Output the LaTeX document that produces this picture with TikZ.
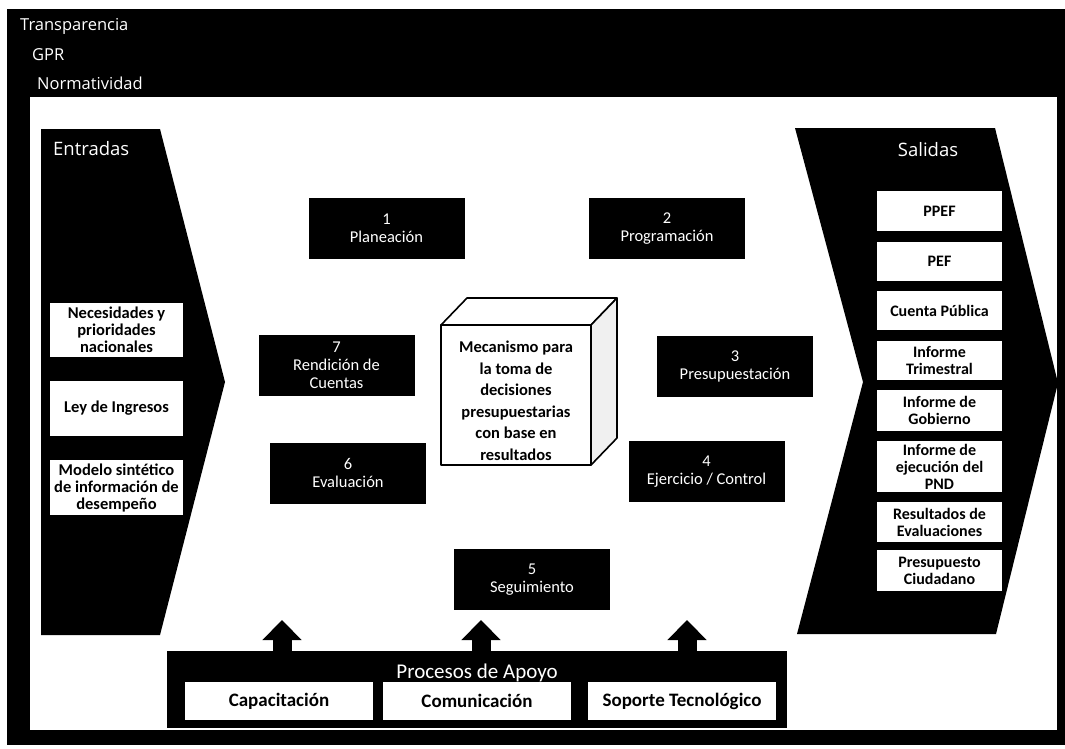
\documentclass[tikz,border=0pt]{standalone}
\usepackage{fontspec}
\setmainfont{Carlito}
\newfontfamily\osans{Open Sans}
\usetikzlibrary{arrows.meta}
\begin{document}
\begin{tikzpicture}[x=1pt,y=-1pt,
  toplabel/.style={text=white, inner sep=0pt, font=\osans\fontsize{16.5}{18}\selectfont},
  sidetitle/.style={text=white, inner sep=0pt, font=\osans\fontsize{18.5}{20}\selectfont},
  stagebox/.style={fill=black, text=white, minimum width=156pt, minimum height=61pt, inner sep=0pt, align=center, font=\fontsize{16.5}{18}\selectfont},
  inbox/.style={fill=white, text=black, minimum width=133pt, inner sep=0pt, align=center, font=\bfseries\fontsize{16.5}{17}\selectfont},
  outbox/.style={fill=white, text=black, minimum width=125pt, inner sep=0pt, align=center, font=\bfseries\fontsize{16}{17}\selectfont},
  apoyobox/.style={fill=white, text=black, minimum width=188pt, minimum height=38pt, inner sep=0pt, font=\bfseries\fontsize{19}{21}\selectfont},
  cubeline/.style={draw=black, line width=1.6pt, line join=round},
  bigarrow/.style={line width=19pt, draw=black, -{Triangle[width=38pt,length=20pt]}}
]
\useasboundingbox (0,0) rectangle (1065,748);
% frame
\fill[black] (7,9) rectangle (1065,745);
\fill[white] (30,97) rectangle (1057,730);
% top labels
\node[toplabel, anchor=base west] (transp) at (20,30) {Transparencia};
\node[toplabel, anchor=base west] (gpr) at (32,60) {GPR};
\node[toplabel, anchor=base west] (norm) at (37,89) {Normatividad};
% Entradas
\fill[black] (41,129) -- (160,129) -- (225,382) -- (160,635) -- (41,635) -- cycle;
\node[sidetitle, anchor=base west] (entr) at (53,155) {Entradas};
\node[inbox, minimum height=54pt] (nec) at (116.5,330) {Necesidades y\\prioridades\\nacionales};
\node[inbox, minimum height=55pt] (ley) at (116.5,408.5) {Ley de Ingresos};
\node[inbox, minimum height=55pt] (mod) at (116.5,487.5) {Modelo sintético\\de información de\\desempeño};
% Salidas
\fill[black] (795,128) -- (995,128) -- (1058,383) -- (996,634) -- (797,634) -- (863,382) -- cycle;
\node[sidetitle, anchor=base] (sal) at (928,156) {Salidas};
\node[outbox, minimum height=40pt] (ppef) at (939.5,211) {PPEF};
\node[outbox, minimum height=39pt] (pef) at (939.5,261.5) {PEF};
\node[outbox, minimum height=39pt] (cp) at (939.5,310.5) {Cuenta Pública};
\node[outbox, minimum height=39pt] (it) at (939.5,360.5) {Informe\\Trimestral};
\node[outbox, minimum height=41pt] (ig) at (939.5,410.5) {Informe de\\Gobierno};
\node[outbox, minimum height=51pt] (ie) at (939.5,466.5) {Informe de\\ejecución del\\PND};
\node[outbox, minimum height=40pt] (re) at (939.5,522) {Resultados de\\Evaluaciones};
\node[outbox, minimum height=41pt] (pc) at (939.5,570.5) {Presupuesto\\Ciudadano};
% stages
\node[stagebox] (s1) at (386.5,228.5) {1\\Planeación};
\node[stagebox] (s2) at (667,228.5) {2\\Programación};
\node[stagebox] (s3) at (735,366) {3\\Presupuestación};
\node[stagebox] (s4) at (706.5,471.5) {4\\Ejercicio / Control};
\node[stagebox] (s5) at (532,579.5) {5\\Seguimiento};
\node[stagebox] (s6) at (348,473) {6\\Evaluación};
\node[stagebox] (s7) at (336.5,365.5) {7\\Rendición de\\Cuentas};
% cube
\draw[cubeline, fill=white] (441,325) -- (467,298) -- (617,298) -- (591,325) -- cycle;
\draw[cubeline, fill=gray!12] (591,325) -- (617,298) -- (617,438) -- (591,465) -- cycle;
\node[cubeline, fill=white, minimum width=150pt, minimum height=140pt, inner sep=0pt] (cube) at (516,395) {};
\node[inner sep=0pt, align=center, font=\bfseries\fontsize{16.5}{21.5}\selectfont] (cubet) at (516,401) {Mecanismo para\\la toma de\\decisiones\\presupuestarias\\con base en\\resultados};
% procesos de apoyo
\node[fill=black, minimum width=620pt, minimum height=77pt, inner sep=0pt] (proc) at (477,689.5) {};
\node[text=white, inner sep=0pt, anchor=base, font=\fontsize{21}{24}\selectfont] (proct) at (477,678) {Procesos de Apoyo};
\node[apoyobox] (capa) at (279,701) {Capacitación};
\node[apoyobox] (comu) at (477,701) {Comunicación};
\node[apoyobox] (sopo) at (682,701) {Soporte Tecnológico};
% arrows
\coordinate (tip1) at (282,620);
\coordinate (tip2) at (481,620);
\coordinate (tip3) at (687,620);
\draw[bigarrow] (tip1 |- proc.north) -- (tip1);
\draw[bigarrow] (tip2 |- proc.north) -- (tip2);
\draw[bigarrow] (tip3 |- proc.north) -- (tip3);
\end{tikzpicture}
\end{document}
